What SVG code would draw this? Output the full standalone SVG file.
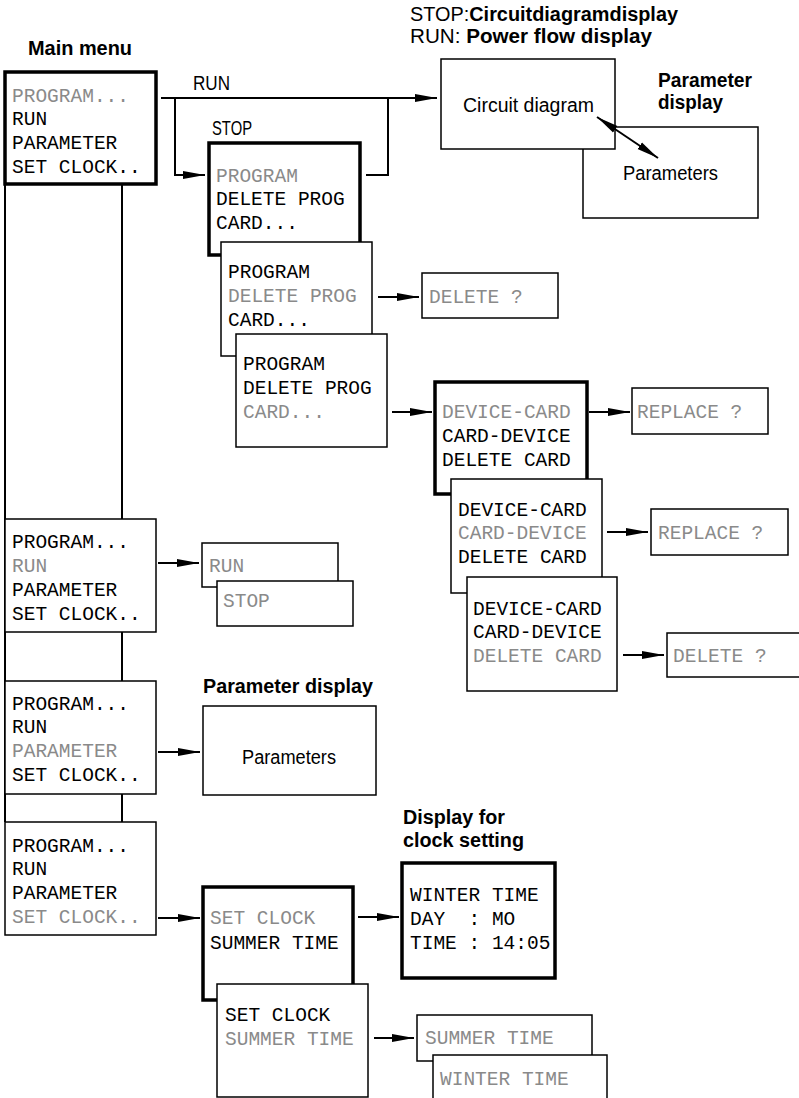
<svg xmlns="http://www.w3.org/2000/svg" width="799" height="1098" viewBox="0 0 799 1098">
<defs>
<style>
.box{fill:#fff;stroke:#000;stroke-width:1.5}
.thick{fill:#fff;stroke:#000;stroke-width:3.5}
.lcd{font-family:"Liberation Mono","DejaVu Sans Mono",monospace;font-size:19.5px;fill:#000}
.g{fill:#8a8a8a}
.lbl{font-family:"Liberation Sans","Noto Sans",sans-serif;font-size:20px;fill:#000}
.b{font-weight:bold}
.con{fill:none;stroke:#000;stroke-width:2}
.arr{marker-end:url(#ah)}
</style>
<marker id="ah" viewBox="0 0 22 10" refX="22" refY="5" markerWidth="22" markerHeight="10" markerUnits="userSpaceOnUse" orient="auto-start-reverse">
<path d="M0,1 L22,5 L0,9 z" fill="#000"/>
</marker>
</defs>

<g id="labels">
<text class="lbl b" x="28" y="55" font-size="21" textLength="104" lengthAdjust="spacingAndGlyphs">Main menu</text>
<text class="lbl" x="193" y="90" textLength="37" lengthAdjust="spacingAndGlyphs">RUN</text>
<text class="lbl" x="212" y="135" textLength="40" lengthAdjust="spacingAndGlyphs">STOP</text>
<text class="lbl" x="410" y="21" font-size="18" textLength="268" lengthAdjust="spacingAndGlyphs">STOP:<tspan class="b">Circuitdiagramdisplay</tspan></text>
<text class="lbl" x="410" y="43" font-size="18" textLength="242" lengthAdjust="spacingAndGlyphs">RUN: <tspan class="b">Power flow display</tspan></text>
<text class="lbl b" x="658" y="87" font-size="19" textLength="94" lengthAdjust="spacingAndGlyphs">Parameter</text>
<text class="lbl b" x="658" y="109" font-size="19" textLength="65" lengthAdjust="spacingAndGlyphs">display</text>
<text class="lbl b" x="203" y="693" textLength="170" lengthAdjust="spacingAndGlyphs">Parameter display</text>
<text class="lbl b" x="403" y="824" textLength="102" lengthAdjust="spacingAndGlyphs">Display for</text>
<text class="lbl b" x="403" y="847" textLength="121" lengthAdjust="spacingAndGlyphs">clock setting</text>
</g>

<g id="connectors">
<line class="con" x1="5" y1="184" x2="5" y2="822" stroke-width="1.5"/>
<line class="con" x1="122" y1="184" x2="122" y2="822" stroke-width="1.5"/>
<line class="con arr" x1="161" y1="98" x2="437" y2="98"/>
<polyline class="con arr" points="175,98 175,175 205,175"/>
<polyline class="con" points="366,175 388,175 388,98"/>
<line class="con arr" x1="378" y1="297" x2="419" y2="297"/>
<line class="con arr" x1="392" y1="412" x2="432" y2="412"/>
<line class="con arr" x1="589" y1="412" x2="630" y2="412"/>
<line class="con arr" x1="607" y1="532" x2="648" y2="532"/>
<line class="con arr" x1="623" y1="655" x2="664" y2="655"/>
<line class="con arr" x1="158" y1="563" x2="199" y2="563"/>
<line class="con arr" x1="158" y1="752" x2="200" y2="752"/>
<line class="con arr" x1="158" y1="918" x2="200" y2="918"/>
<line class="con arr" x1="358" y1="917" x2="399" y2="917"/>
<line class="con arr" x1="374" y1="1038" x2="414" y2="1038"/>
</g>

<g id="param-display-top">
<rect class="box" x="583" y="127" width="175" height="91"/>
<text class="lbl" x="623" y="180" textLength="95" lengthAdjust="spacingAndGlyphs">Parameters</text>
</g>
<g id="circuit-diagram">
<rect class="box" x="441" y="59" width="174" height="90"/>
<text class="lbl" x="463" y="112" textLength="131" lengthAdjust="spacingAndGlyphs">Circuit diagram</text>
</g>
<line id="double-arrow" class="con" x1="597" y1="117" x2="658" y2="158" stroke-width="1.5" marker-start="url(#ah)" marker-end="url(#ah)"/>

<g id="main-menu">
<rect class="thick" x="5" y="72" width="151" height="112"/>
<text class="lcd g" x="12" y="102">PROGRAM...</text>
<text class="lcd" x="12" y="125">RUN</text>
<text class="lcd" x="12" y="149">PARAMETER</text>
<text class="lcd" x="12" y="173">SET CLOCK..</text>
</g>

<g id="menu-run">
<rect class="box" x="5" y="519" width="151" height="113"/>
<text class="lcd" x="12" y="548">PROGRAM...</text>
<text class="lcd g" x="12" y="572">RUN</text>
<text class="lcd" x="12" y="596">PARAMETER</text>
<text class="lcd" x="12" y="620">SET CLOCK..</text>
</g>

<g id="menu-parameter">
<rect class="box" x="5" y="681" width="151" height="113"/>
<text class="lcd" x="12" y="710">PROGRAM...</text>
<text class="lcd" x="12" y="733">RUN</text>
<text class="lcd g" x="12" y="757">PARAMETER</text>
<text class="lcd" x="12" y="781">SET CLOCK..</text>
</g>

<g id="menu-clock">
<rect class="box" x="5" y="822" width="151" height="113"/>
<text class="lcd" x="12" y="852">PROGRAM...</text>
<text class="lcd" x="12" y="875">RUN</text>
<text class="lcd" x="12" y="899">PARAMETER</text>
<text class="lcd g" x="12" y="923">SET CLOCK..</text>
</g>

<g id="stop-program">
<rect class="thick" x="209" y="143" width="151" height="112"/>
<text class="lcd g" x="216" y="182">PROGRAM</text>
<text class="lcd" x="216" y="205">DELETE PROG</text>
<text class="lcd" x="216" y="229">CARD...</text>
</g>
<g id="stop-delete">
<rect class="box" x="221" y="242" width="151" height="114"/>
<text class="lcd" x="228" y="278">PROGRAM</text>
<text class="lcd g" x="228" y="302">DELETE PROG</text>
<text class="lcd" x="228" y="326">CARD...</text>
</g>
<g id="stop-card">
<rect class="box" x="236" y="334" width="151" height="113"/>
<text class="lcd" x="243" y="370">PROGRAM</text>
<text class="lcd" x="243" y="394">DELETE PROG</text>
<text class="lcd g" x="243" y="418">CARD...</text>
</g>
<g id="delete-q1">
<rect class="box" x="422" y="273" width="136" height="45"/>
<text class="lcd g" x="429" y="303">DELETE ?</text>
</g>

<g id="card-1">
<rect class="thick" x="435" y="382" width="152" height="112"/>
<text class="lcd g" x="442" y="418">DEVICE-CARD</text>
<text class="lcd" x="442" y="442">CARD-DEVICE</text>
<text class="lcd" x="442" y="466">DELETE CARD</text>
</g>
<g id="card-2">
<rect class="box" x="451" y="479" width="151" height="114"/>
<text class="lcd" x="458" y="516">DEVICE-CARD</text>
<text class="lcd g" x="458" y="539">CARD-DEVICE</text>
<text class="lcd" x="458" y="563">DELETE CARD</text>
</g>
<g id="card-3">
<rect class="box" x="467" y="577" width="150" height="114"/>
<text class="lcd" x="473" y="615">DEVICE-CARD</text>
<text class="lcd" x="473" y="638">CARD-DEVICE</text>
<text class="lcd g" x="473" y="662">DELETE CARD</text>
</g>
<g id="replace-q1">
<rect class="box" x="632" y="388" width="136" height="46"/>
<text class="lcd g" x="637" y="418">REPLACE ?</text>
</g>
<g id="replace-q2">
<rect class="box" x="651" y="509" width="137" height="46"/>
<text class="lcd g" x="658" y="539">REPLACE ?</text>
</g>
<g id="delete-q2">
<rect class="box" x="667" y="633" width="140" height="44"/>
<text class="lcd g" x="673" y="662">DELETE ?</text>
</g>

<g id="run-opt">
<rect class="box" x="202" y="543" width="136" height="44"/>
<text class="lcd g" x="209" y="572">RUN</text>
</g>
<g id="stop-opt">
<rect class="box" x="217" y="581" width="136" height="45"/>
<text class="lcd g" x="223" y="607">STOP</text>
</g>

<g id="parameters-box">
<rect class="box" x="203" y="706" width="173" height="89"/>
<text class="lbl" x="242" y="764" textLength="94" lengthAdjust="spacingAndGlyphs">Parameters</text>
</g>

<g id="clock-1">
<rect class="thick" x="203" y="887" width="150" height="113"/>
<text class="lcd g" x="210" y="924">SET CLOCK</text>
<text class="lcd" x="210" y="949">SUMMER TIME</text>
</g>
<g id="clock-2">
<rect class="box" x="217" y="984" width="151" height="113"/>
<text class="lcd" x="225" y="1021">SET CLOCK</text>
<text class="lcd g" x="225" y="1045">SUMMER TIME</text>
</g>
<g id="clock-display">
<rect class="thick" x="402" y="863" width="153" height="115"/>
<text class="lcd" x="410" y="901">WINTER TIME</text>
<text class="lcd" x="410" y="925" xml:space="preserve">DAY  : MO</text>
<text class="lcd" x="410" y="949">TIME : 14:05</text>
</g>
<g id="summer-opt">
<rect class="box" x="417" y="1015" width="175" height="46"/>
<text class="lcd g" x="425" y="1044">SUMMER TIME</text>
</g>
<g id="winter-opt">
<rect class="box" x="433" y="1055" width="174" height="60"/>
<text class="lcd g" x="440" y="1085">WINTER TIME</text>
</g>
</svg>
